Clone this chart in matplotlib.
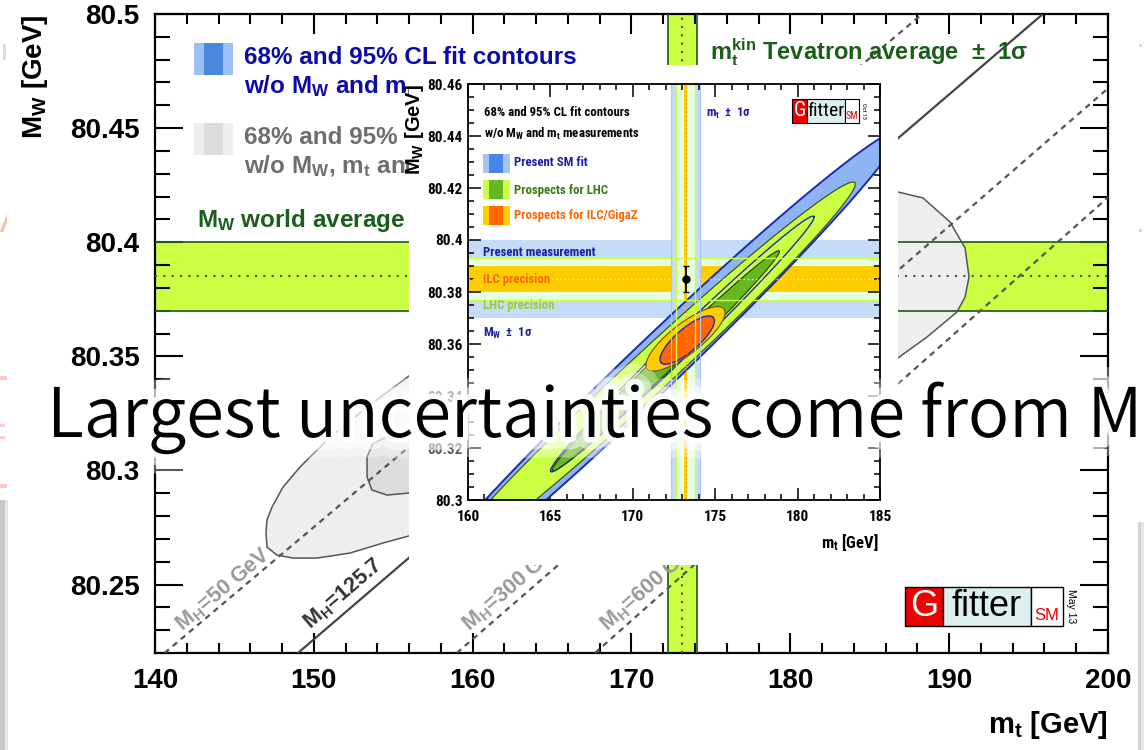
import numpy as np
import matplotlib
matplotlib.use("Agg")
import matplotlib.pyplot as plt
from matplotlib import font_manager as fm
from matplotlib.patches import Rectangle
from matplotlib.ticker import FixedLocator, FixedFormatter, MultipleLocator
import matplotlib.patheffects as pe

plt.rcParams["font.family"] = ["Liberation Sans", "DejaVu Sans"]
plt.rcParams["mathtext.default"] = "regular"

# condensed face for the small panel, if one is installed
_installed = {f.name for f in fm.fontManager.ttflist}
_narrow = [n for n in ("Liberation Sans Narrow", "Roboto Condensed", "Arial Narrow",
                       "Nimbus Sans Narrow", "DejaVu Sans Condensed",
                       "Open Sans Condensed", "Noto Sans Condensed")
           if n in _installed]
if _narrow:
    NARROW = [_narrow[0], "DejaVu Sans"]
    NS = 1.0
else:
    NARROW = ["Liberation Sans", "DejaVu Sans"]
    NS = 0.8
JP = ["Noto Sans CJK JP", "DejaVu Sans"]

# ---------------- main panel: M_W versus m_t ----------------
mt_lim = [140, 200]
mw_lim = [80.22, 80.50]
mt_ticks = [140, 150, 160, 170, 180, 190, 200]
mt_tick_labels = ["140", "150", "160", "170", "180", "190", "200"]
mw_ticks = [80.25, 80.30, 80.35, 80.40, 80.45, 80.50]
mw_tick_labels = ["80.25", "80.3", "80.35", "80.4", "80.45", "80.5"]

mw_world, mw_world_err = 80.385, 0.015
mt_tevatron, mt_tevatron_err = 173.2, 0.9

# iso-M_H lines: m_t where each line meets the lower / upper frame edge
mh_labels = ["M$_H$=50 GeV", "M$_H$=125.7", "M$_H$=300 GeV", "M$_H$=600 GeV"]
mh_mt_low = [140.6, 149.0, 159.0, 167.7]
mh_mt_high = [188.3, 195.9, 205.4, 213.0]

# fit without M_W, m_t and M_H: outline vertices (m_t, M_W)
free95_mt = [155.99, 186.78, 188.35, 190.05, 191.00, 191.25, 191.00, 190.49,
             188.61, 186.78, 155.99, 154.36, 152.28, 150.20, 148.69, 147.68,
             147.05, 146.99, 147.05, 147.37, 148.06, 149.13, 150.83, 153.35]
free95_mw = [80.3414, 80.4220, 80.4194, 80.4089, 80.3975, 80.3848, 80.3760, 80.3694,
             80.3585, 80.3493, 80.2713, 80.2682, 80.2638, 80.2616, 80.2616, 80.2629,
             80.2664, 80.2726, 80.2783, 80.2840, 80.2927, 80.3015, 80.3133, 80.3278]
free68_mt = [155.99, 154.61, 153.73, 153.35, 153.35, 153.66, 154.61, 155.99, 165.0, 165.0]
free68_mw = [80.3164, 80.3146, 80.3120, 80.3059, 80.2971, 80.2914, 80.2892, 80.2901,
             80.300, 80.330]

# ---------------- prospects panel ----------------
in_mt_lim = [160, 185]
in_mw_lim = [80.30, 80.46]
in_mt_ticks = [160, 165, 170, 175, 180, 185]
in_mt_tick_labels = ["160", "165", "170", "175", "180", "185"]
in_mw_ticks = [80.30, 80.32, 80.34, 80.36, 80.38, 80.40, 80.42, 80.44, 80.46]
in_mw_tick_labels = ["80.3", "80.32", "80.34", "80.36", "80.38", "80.4",
                     "80.42", "80.44", "80.46"]

mt_meas = 173.2
mt_err_now, mt_err_lhc, mt_err_ilc = 0.9, 0.6, 0.1
mw_meas = 80.385
mw_err_now, mw_err_lhc, mw_err_ilc = 0.015, 0.008, 0.005

# fit contours: centre, half extent in m_t, M_W/m_t slope, half height in M_W
ell_names = ["SM 95", "SM 68", "LHC 95", "LHC 68", "ILC 95", "ILC 68"]
ell_mt = [171.2, 173.0, 171.0, 172.0, 173.2, 173.3]
ell_mw = [80.351, 80.360, 80.349, 80.3535, 80.362, 80.3615]
ell_dmt = [15.0, 8.0, 12.5, 6.9, 2.4, 1.65]
ell_slope = [0.0060, 0.0061, 0.0058, 0.0061, 0.0042, 0.0045]
ell_dmw = [0.0135, 0.0062, 0.0108, 0.0050, 0.0072, 0.0056]

W, H = 1144, 750
fig = plt.figure(figsize=(W / 100, H / 100), dpi=100)
fig.patch.set_facecolor("white")


def fbox(x0, y0, x1, y1):
    """pixel box (top-left origin) -> figure fraction rect"""
    return [x0 / W, 1 - y1 / H, (x1 - x0) / W, (y1 - y0) / H]


def ftext(px, py, s, **kw):
    return fig.text(px / W, 1 - py / H, s, **kw)


def frect(x0, y0, x1, y1, **kw):
    l, b, w, h = fbox(x0, y0, x1, y1)
    r = Rectangle((l, b), w, h, transform=fig.transFigure, **kw)
    fig.add_artist(r)
    return r


def ellipse_xy(xc, yc, a, s, b, n=300):
    t = np.linspace(0, 2 * np.pi, n)
    return xc + a * np.cos(t), yc + s * a * np.cos(t) + b * np.sin(t)


# ---------------- main axes ----------------
ax = fig.add_axes(fbox(155, 14, 1108, 653))
ax.set_zorder(0)
ax.set_xlim(mt_lim)
ax.set_ylim(mw_lim)

GREEN = "#CCFF44"
DKGREEN = "#2C6420"
ax.axhspan(mw_world - mw_world_err, mw_world + mw_world_err, color=GREEN, lw=0, zorder=1)
ax.axvspan(mt_tevatron - mt_tevatron_err, mt_tevatron + mt_tevatron_err, color=GREEN, lw=0, zorder=1)

ax.fill(free95_mt, free95_mw, facecolor="#EEEEEE", edgecolor="#555555", lw=1.1, zorder=2)
ax.fill(free68_mt, free68_mw, facecolor="#DCDCDC", edgecolor="#555555", lw=1.1, zorder=2.1)

for v in (mw_world - mw_world_err, mw_world + mw_world_err):
    ax.axhline(v, color=DKGREEN, lw=1.3, zorder=3)
for v in (mt_tevatron - mt_tevatron_err, mt_tevatron + mt_tevatron_err):
    ax.axvline(v, color=DKGREEN, lw=1.3, zorder=3)
ax.axhline(mw_world, color=DKGREEN, lw=1.5, ls=(0, (1, 3)), zorder=3)
ax.axvline(mt_tevatron, color=DKGREEN, lw=1.5, ls=(0, (1, 3)), zorder=3)

mh_colors = ["#999999", "#333333", "#999999", "#999999"]
mh_solid = [False, True, False, False]
mh_anchor = [(141.75, 80.2292), (149.75, 80.2301), (159.8, 80.2292), (168.45, 80.2292)]
for lab, x0, x1, col, solid, anc in zip(mh_labels, mh_mt_low, mh_mt_high,
                                         mh_colors, mh_solid, mh_anchor):
    if solid:
        ax.plot([x0, x1], mw_lim, color="#444444", lw=1.6, zorder=4)
    else:
        ax.plot([x0, x1], mw_lim, color="#555555", lw=1.6, dashes=(2.6, 2.2), zorder=4)
    p0 = ax.transData.transform((x0, mw_lim[0]))
    p1 = ax.transData.transform((x1, mw_lim[1]))
    ang = np.degrees(np.arctan2(p1[1] - p0[1], p1[0] - p0[0]))
    ax.text(anc[0], anc[1], lab, rotation=ang, rotation_mode="anchor",
            ha="left", va="baseline", fontsize=15.5, fontweight="bold",
            color=col, zorder=5)

ax.xaxis.set_major_locator(FixedLocator(mt_ticks))
ax.xaxis.set_major_formatter(FixedFormatter(mt_tick_labels))
ax.yaxis.set_major_locator(FixedLocator(mw_ticks))
ax.yaxis.set_major_formatter(FixedFormatter(mw_tick_labels))
ax.xaxis.set_minor_locator(MultipleLocator(2))
ax.yaxis.set_minor_locator(MultipleLocator(0.01))
ax.tick_params(which="both", direction="in", top=True, right=True, width=1.5,
               labelsize=20, colors="black")
ax.tick_params(axis="y", which="major", length=20, pad=11)
ax.tick_params(axis="y", which="minor", length=10.5)
ax.tick_params(axis="x", which="major", length=14.5, pad=11)
ax.tick_params(axis="x", which="minor", length=7.5)
for t in ax.get_xticklabels() + ax.get_yticklabels():
    t.set_fontweight("bold")
for sp in ax.spines.values():
    sp.set_linewidth(1.6)

# legend entries of the main panel (the right-hand parts sit under the small panel)
BLUE_TXT = "#0B0BA8"
GRAY_TXT = "#6E6E6E"
GREEN_TXT = "#1B5E1B"
frect(194, 43, 233, 75, facecolor="#9DBFF8", edgecolor="none", zorder=0.5)
frect(204, 43, 223, 75, facecolor="#4A88DC", edgecolor="none", zorder=0.55)
frect(194, 123, 233, 155, facecolor="#EEEEEE", edgecolor="none", zorder=0.5)
frect(204, 123, 223, 155, facecolor="#DCDCDC", edgecolor="none", zorder=0.55)
ftext(244, 57, "68% and 95% CL fit contours", fontsize=17.5, fontweight="bold",
      color=BLUE_TXT, va="center", zorder=0.6)
ftext(244, 86, "w/o M$_W$ and m$_t$", fontsize=17.5, fontweight="bold",
      color=BLUE_TXT, va="center", zorder=0.6)
ftext(244, 137, "68% and 95%", fontsize=17.5, fontweight="bold",
      color=GRAY_TXT, va="center", zorder=0.6)
ftext(244, 166, "w/o M$_W$, m$_t$ and", fontsize=17.5, fontweight="bold",
      color=GRAY_TXT, va="center", zorder=0.6)
ftext(197, 220, "M$_W$ world average", fontsize=17.5, fontweight="bold",
      color=GREEN_TXT, va="center", zorder=0.6)
ftext(710, 53, "m$_t^{kin}$ Tevatron average  \u00b1  1\u03c3", fontsize=17,
      fontweight="bold", color=GREEN_TXT, va="center", zorder=0.6)

# axis titles
ftext(35, 14, "M$_W$ [GeV]", fontsize=20, fontweight="bold", rotation=90,
      ha="center", va="top")
ftext(1108, 733, "m$_t$ [GeV]", fontsize=21, fontweight="bold", ha="right",
      va="baseline")

# Gfitter logo, main panel
frect(905, 587, 943, 626, facecolor="#EE0000", edgecolor="black", lw=1.0, zorder=0.6)
frect(943, 587, 1031, 626, facecolor="#DDEEEE", edgecolor="black", lw=1.0, zorder=0.6)
frect(1031, 587, 1063, 626, facecolor="white", edgecolor="black", lw=1.0, zorder=0.6)
ftext(924, 607, "G", fontsize=26, color="white", ha="center", va="center", zorder=0.7)
ftext(987, 606, "fitter", fontsize=26, color="black", ha="center", va="center", zorder=0.7)
ftext(1047, 615, "SM", fontsize=12, color="#EE0000", ha="center", va="center", zorder=0.7)
ftext(1071, 606, "May 13", fontsize=7.5, rotation=-90, ha="center", va="center", zorder=0.7)

# slide edges
frect(0, 500, 5, 750, facecolor="#C8C8C8", edgecolor="none", zorder=0.4)
frect(5, 500, 8, 750, facecolor="#E4E4E4", edgecolor="none", zorder=0.4)
frect(1138, 522, 1141, 750, facecolor="#D2D2D2", edgecolor="none", zorder=0.4)
frect(1141, 522, 1144, 750, facecolor="#E6E6E6", edgecolor="none", zorder=0.4)
frect(3, 44, 6, 60, facecolor="#DDDDDD", edgecolor="none", zorder=0.4)
frect(0, 376, 7, 380, facecolor="#FAC8C0", edgecolor="none", zorder=0.4)
frect(0, 484, 7, 488, facecolor="#FAC8C0", edgecolor="none", zorder=0.4)
frect(0, 424, 5, 427, facecolor="#FAD0C8", edgecolor="none", zorder=0.4)
frect(0, 436, 5, 439, facecolor="#FAD0C8", edgecolor="none", zorder=0.4)
frect(1139, 44, 1142, 47, facecolor="#D8D8D8", edgecolor="none", zorder=0.4)
frect(1139, 229, 1142, 232, facecolor="#D8D8D8", edgecolor="none", zorder=0.4)
tri = plt.Polygon([(0 / W, 1 - 232 / H), (7 / W, 1 - 214 / H), (7 / W, 1 - 222 / H),
                   (3 / W, 1 - 232 / H)], closed=True, transform=fig.transFigure,
                  facecolor="#F8B8AE", edgecolor="none", zorder=0.4)
fig.add_artist(tri)

# white panel carrying the prospects plot
frect(409, 65, 898, 565, facecolor="white", edgecolor="none", zorder=1)

# ---------------- prospects axes ----------------
ax2 = fig.add_axes(fbox(468, 84, 880, 500))
ax2.set_zorder(2)
ax2.set_xlim(in_mt_lim)
ax2.set_ylim(in_mw_lim)

LBLUE = "#C4DCF8"
PALEG = "#E4FFE0"
GOLD = "#FFCC00"
ax2.axhspan(mw_meas - mw_err_now, mw_meas + mw_err_now, color=LBLUE, lw=0, zorder=1)
ax2.axhspan(mw_meas - mw_err_lhc, mw_meas + mw_err_lhc, color=PALEG, lw=0, zorder=1.1)
ax2.axhspan(mw_meas - mw_err_ilc, mw_meas + mw_err_ilc, color=GOLD, lw=0, zorder=1.2)
ax2.axvspan(mt_meas - mt_err_now, mt_meas + mt_err_now, color=LBLUE, lw=0, zorder=1.3)
ax2.axvspan(mt_meas - mt_err_lhc, mt_meas + mt_err_lhc, color=PALEG, lw=0, zorder=1.4)
ax2.axvspan(mt_meas - mt_err_ilc, mt_meas + mt_err_ilc, color=GOLD, lw=0, zorder=1.5)

fills = ["#8FB4F4", "#4A86E8", GREEN, "#66B820", GOLD, "#FF6600"]
edges = ["#1A2DB0", "#1A2DB0", "#2E4A08", "#1E3A05", "#6B5200", "#1A2DB0"]
lws = [1.4, 1.0, 0.8, 0.8, 0.8, 1.0]
zs = [2.0, 2.1, 2.2, 2.4, 2.5, 2.6]
for i in range(len(ell_names)):
    x, y = ellipse_xy(ell_mt[i], ell_mw[i], ell_dmt[i], ell_slope[i], ell_dmw[i])
    ax2.fill(x, y, facecolor=fills[i], edgecolor=edges[i], lw=lws[i], zorder=zs[i])
    if i == 1:
        ax2.plot(x, y, color=edges[i], lw=lws[i], zorder=2.3)

for v in (mw_meas - mw_err_lhc, mw_meas + mw_err_lhc):
    ax2.axhline(v, color="#CCFF44", lw=1.0, zorder=3)
for v in (mt_meas - mt_err_lhc, mt_meas + mt_err_lhc):
    ax2.axvline(v, color="#CCFF44", lw=1.0, zorder=3)
for v in (mt_meas - mt_err_now, mt_meas + mt_err_now):
    ax2.axvline(v, color="#A8C8F0", lw=0.8, zorder=3)
ax2.axhline(mw_meas, color="#FFE9A0", lw=1.0, ls=(0, (1, 2)), zorder=3)
ax2.axvline(mt_meas, color="#FF9900", lw=1.0, ls=(0, (1, 2)), zorder=3)
ax2.errorbar([mt_meas], [mw_meas], yerr=[mw_err_ilc], fmt="o", color="black",
             ms=5, lw=1.3, capsize=2.5, zorder=4)

ax2.xaxis.set_major_locator(FixedLocator(in_mt_ticks))
ax2.xaxis.set_major_formatter(FixedFormatter(in_mt_tick_labels))
ax2.yaxis.set_major_locator(FixedLocator(in_mw_ticks))
ax2.yaxis.set_major_formatter(FixedFormatter(in_mw_tick_labels))
ax2.xaxis.set_minor_locator(MultipleLocator(1))
ax2.yaxis.set_minor_locator(MultipleLocator(0.005))
ax2.tick_params(which="both", direction="in", top=True, right=True, width=1.1,
                labelsize=11 * NS)
ax2.tick_params(which="major", length=9)
ax2.tick_params(which="minor", length=4.5)
ax2.tick_params(axis="y", pad=4)
ax2.tick_params(axis="x", pad=7)
for t in ax2.get_xticklabels() + ax2.get_yticklabels():
    t.set_fontweight("bold")
    t.set_fontfamily(NARROW)
for sp in ax2.spines.values():
    sp.set_linewidth(1.3)
    sp.set_zorder(5)

NAVY = "#1C1CA8"


def itext(px, py, s, color, size=9.2, **kw):
    return ftext(px, py, s, fontsize=size * NS, fontweight="bold", family=NARROW,
                 color=color, va="center", zorder=2.5, **kw)


itext(484, 113, "68% and 95% CL fit contours", "black", size=9.2)
itext(484, 134, "w/o M$_W$ and m$_t$ measurements", "black", size=9.2)
itext(514, 163, "Present SM fit", NAVY)
itext(514, 190, "Prospects for LHC", "#3A7A10")
itext(514, 216, "Prospects for ILC/GigaZ", "#FF6600")
itext(483, 252, "Present measurement", NAVY)
itext(483, 279, "ILC precision", "#FF6600")
itext(483, 305, "LHC precision", "#99CC33")
itext(483, 333, "M$_W$  \u00b1  1\u03c3", NAVY)
itext(706, 113, "m$_t$  \u00b1  1\u03c3", NAVY)

for (y0, y1, outer, inner) in [(154, 173, "#A4C4F4", "#4A86E8"),
                               (180, 199, GREEN, "#66B820"),
                               (206, 225, GOLD, "#FF6600")]:
    frect(483, y0, 510, y1, facecolor=outer, edgecolor="none", zorder=2.4)
    frect(489, y0, 503, y1, facecolor=inner, edgecolor="none", zorder=2.45)

ftext(415, 84, "M$_W$ [GeV]", fontsize=14.5, fontweight="bold",
      rotation=90, ha="center", va="top", zorder=2.5)
ftext(878, 548, "m$_t$ [GeV]", fontsize=12 * NS, fontweight="bold", family=NARROW,
      ha="right", va="baseline", zorder=2.5)

# Gfitter logo, prospects panel
frect(792, 99, 807, 123, facecolor="#EE0000", edgecolor="black", lw=0.8, zorder=2.5)
frect(807, 99, 845, 123, facecolor="#DDEEEE", edgecolor="black", lw=0.8, zorder=2.5)
frect(845, 99, 859, 123, facecolor="white", edgecolor="black", lw=0.8, zorder=2.5)
ftext(800, 111, "G", fontsize=15 * NS, color="white", family=NARROW, ha="center",
      va="center", zorder=2.6)
ftext(826, 111, "fitter", fontsize=14 * NS, color="black", family=NARROW, ha="center",
      va="center", zorder=2.6)
ftext(852, 116, "SM", fontsize=7, color="#EE0000", family=NARROW, ha="center",
      va="center", zorder=2.6)
ftext(864, 111, "Oct 13", fontsize=4.5, rotation=-90, family=NARROW, ha="center",
      va="center", zorder=2.6)

# slide caption over the figure
halo = [pe.Stroke(linewidth=30, foreground="white", alpha=0.35),
        pe.Stroke(linewidth=18, foreground="white", alpha=0.55),
        pe.Stroke(linewidth=8, foreground="white", alpha=0.9),
        pe.Normal()]
ftext(47, 437, "Largest uncertainties come from M", fontsize=49.3, family=JP,
      fontweight=360, color="black", ha="left", va="baseline", zorder=3,
      path_effects=halo)

fig.savefig("out.png", dpi=100, facecolor="white")
